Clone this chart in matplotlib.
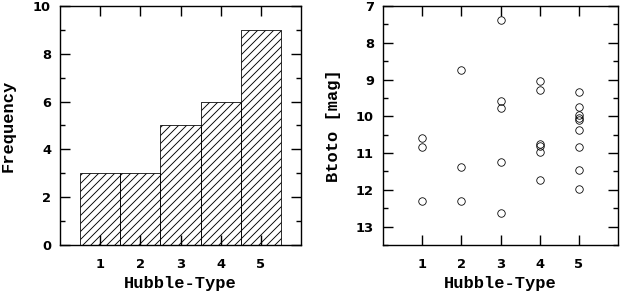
import matplotlib.pyplot as plt
from matplotlib.ticker import MultipleLocator

# histogram of Hubble types
hubble_types = [1, 2, 3, 4, 5]
frequency = [3, 3, 5, 6, 9]

# Btoto magnitudes per Hubble type
type_1 = [10.58, 10.83, 12.30]
type_2 = [8.75, 11.37, 12.30]
type_3 = [7.38, 9.58, 9.78, 11.25, 12.62]
type_4 = [9.03, 9.29, 10.75, 10.80, 10.98, 11.73]
type_5 = [9.34, 9.76, 9.97, 10.04, 10.11, 10.37, 10.84, 11.47, 11.97]

LABEL_FONT = dict(family="Liberation Mono", weight="bold", size=17)

plt.rcParams["font.family"] = "DejaVu Sans"
plt.rcParams["font.weight"] = "bold"
plt.rcParams["hatch.linewidth"] = 0.9

fig = plt.figure(figsize=(624 / 72, 293 / 72), dpi=72)
ax1 = fig.add_axes([60 / 624, 48 / 293, 241 / 624, 239 / 293])
ax2 = fig.add_axes([383 / 624, 48 / 293, 235 / 624, 239 / 293])


def style_axes(ax):
    for s in ax.spines.values():
        s.set_linewidth(1.4)
    ax.tick_params(which="both", direction="in", top=True, right=True,
                   width=1.4, labelsize=13, pad=9)
    ax.tick_params(axis="x", which="major", pad=13)
    ax.tick_params(which="major", length=10)
    ax.tick_params(which="minor", length=5)
    ax.tick_params(axis="x", which="minor", length=0)
    ax.set_xlim(0, 6)
    ax.set_xticks(hubble_types)
    ax.set_xlabel("Hubble-Type", labelpad=5, **LABEL_FONT)


# left: frequency histogram
ax1.bar(hubble_types, frequency, width=1.0, fill=False, hatch="///",
        edgecolor="black", linewidth=0.8)
ax1.set_ylim(0, 10)
ax1.yaxis.set_major_locator(MultipleLocator(2))
ax1.yaxis.set_minor_locator(MultipleLocator(1))
ax1.set_ylabel("Frequency", labelpad=17, **LABEL_FONT)
style_axes(ax1)

# right: Btoto vs Hubble type
for t, mags in zip(hubble_types, [type_1, type_2, type_3, type_4, type_5]):
    ax2.plot([t] * len(mags), mags, "o", mfc="none", mec="black",
             ms=7.5, mew=0.8, linestyle="none")
ax2.set_ylim(13.5, 7)
ax2.yaxis.set_major_locator(MultipleLocator(1))
ax2.yaxis.set_minor_locator(MultipleLocator(0.5))
ax2.set_ylabel("Btoto [mag]", labelpad=15, **LABEL_FONT)
style_axes(ax2)

fig.savefig("out.png", dpi=72)
